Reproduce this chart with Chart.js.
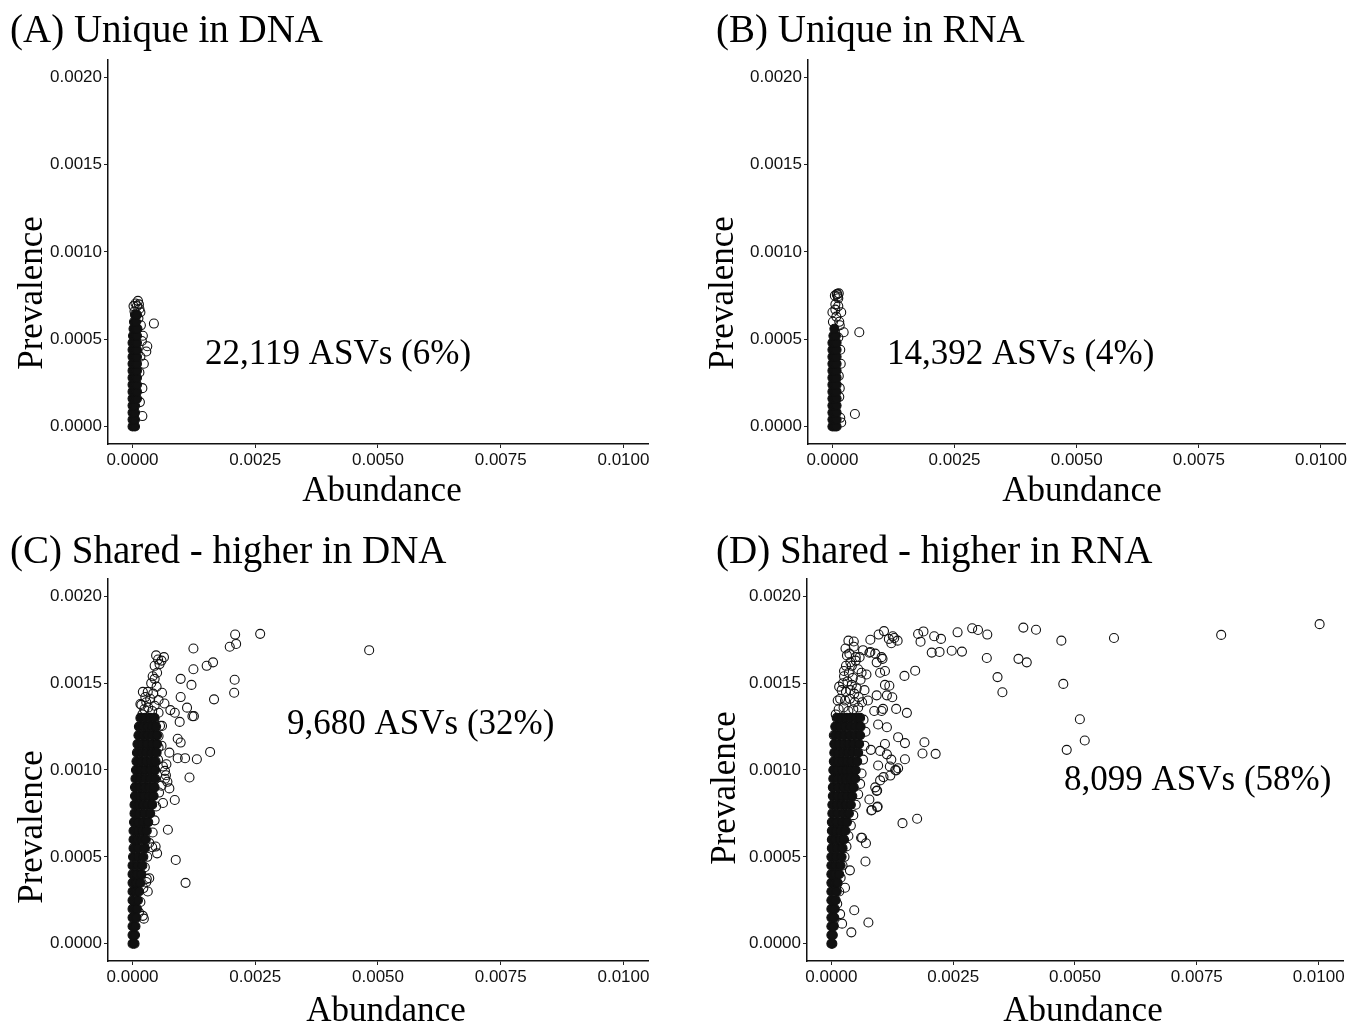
<!DOCTYPE html>
<html>
<head>
<meta charset="utf-8">
<title>Prevalence vs abundance</title>
<script src="https://cdn.jsdelivr.net/npm/chart.js@4.4.1/dist/chart.umd.min.js"></script>
<style>
  body { margin: 0; background: #fff; width: 1351px; height: 1023px; overflow: hidden; }
  .panel { position: absolute; }
</style>
</head>
<body>
<div class="panel" style="left:0;top:0"><canvas id="chartA" width="670" height="515"></canvas></div>
<div class="panel" style="left:700px;top:0"><canvas id="chartB" width="651" height="515"></canvas></div>
<div class="panel" style="left:0;top:520px"><canvas id="chartC" width="670" height="503"></canvas></div>
<div class="panel" style="left:700px;top:520px"><canvas id="chartD" width="651" height="503"></canvas></div>

<script>
// all point values below are in units of 1e-4 (abundance, prevalence)
const UNIT = 1e-4;

const xTicks = [0, 0.0025, 0.005, 0.0075, 0.01];
const yTicks = [0, 0.0005, 0.001, 0.0015, 0.002];

const panelTitles = ['(A) Unique in DNA', '(B) Unique in RNA', '(C) Shared - higher in DNA', '(D) Shared - higher in RNA'];
const panelNotes = ['22,119 ASVs (6%)', '14,392 ASVs (4%)', '9,680 ASVs (32%)', '8,099 ASVs (58%)'];

// dense (solid black) part of each cloud
const coreA = [
  [0,0],[0.5,0],[0,0.4],[0.5,0.4],[0,0.8],[0.5,0.8],[0,1.2],[0.5,1.2],
  [0,1.6],[0.5,1.6],[0.9,1.6],[0,2.0],[0.5,2.0],[0.9,2.0],[0,2.4],[0.5,2.4],[0.9,2.4],
  [0,2.8],[0.5,2.8],[0.9,2.8],[0,3.2],[0.5,3.2],[0.9,3.2],[0,3.6],[0.5,3.6],[0.9,3.6],
  [0,4.0],[0.5,4.0],[0.9,4.0],[0,4.4],[0.5,4.4],[0.9,4.4],[0,4.8],[0.5,4.8],[0.9,4.8],
  [0.1,5.2],[0.5,5.2],[0.9,5.2],[0.2,5.6],[0.6,5.6],[1.0,5.6],[0.3,6.0],[0.7,6.0],
  [0.5,6.4],[0.9,6.4]
];
const ptsA = [
  [4.35,5.9],[3.0,4.6],[2.8,4.3],[2.3,3.6],[2.0,2.2],[2.0,0.6],[2.1,5.2],[1.6,6.55],
  [1.4,6.75],[1.1,7.2],[0.6,7.05],[0.9,6.9],[1.3,7.0],[0.4,6.6],[1.7,5.8],[1.6,4.0],
  [1.5,1.4],[1.4,3.1],[1.2,6.2],[0.2,6.9],[1.9,4.9]
];

const coreB = [
  [0,0],[0.45,0],[0.85,0],[0,0.4],[0.45,0.4],[0.85,0.4],[0,0.8],[0.45,0.8],[0.85,0.8],
  [0,1.2],[0.45,1.2],[0.85,1.2],[0,1.6],[0.45,1.6],[0.85,1.6],[0,2.0],[0.45,2.0],[0.85,2.0],
  [0,2.4],[0.45,2.4],[0.85,2.4],[0,2.8],[0.45,2.8],[0.85,2.8],[0,3.2],[0.45,3.2],[0.85,3.2],
  [0,3.6],[0.45,3.6],[0.85,3.6],[0,4.0],[0.45,4.0],[0.85,4.0],[0,4.4],[0.45,4.4],[0.85,4.4],
  [0,4.8],[0.45,4.8],[0.85,4.8],[0.2,5.2],[0.7,5.2],[0.4,5.6]
];
const ptsB = [
  [5.5,5.4],[4.6,0.72],[2.3,5.4],[1.8,6.55],[1.4,6.0],[1.6,4.4],[1.3,2.9],[1.4,1.7],
  [1.6,0.5],[1.8,0.23],[0.1,6.0],[0,6.55],[0.6,7.0],[0.9,7.57],[1.3,7.63],[0.5,7.5],
  [1.1,7.45],[1.0,7.6],[1.2,7.35],[0.8,6.3],[1.5,5.8],[1.2,5.1],[0.6,6.7],[1.7,3.6],
  [1.5,2.2],[1.2,6.9]
];

const coreC = [
  [0,0],[0.4,0],[0,0.5],[0.5,0.5],[0,1],[0.6,1],[0,1.5],[0.8,1.5],[0,2],[0.9,2],[0,2.5],[1.1,2.5],
  [0,3],[0.7,3],[1.3,3],[0,3.5],[0.8,3.5],[1.6,3.5],[0,4],[0.9,4],[1.8,4],[0,4.5],[1.0,4.5],[2.0,4.5],
  [0.1,5],[1.1,5],[2.2,5],[0.2,5.5],[1.2,5.5],[2.5,5.5],
  [0.2,6],[1.0,6],[1.9,6],[2.7,6],[0.2,6.5],[1.1,6.5],[2.0,6.5],[2.9,6.5],
  [0.3,7],[1.2,7],[2.2,7],[3.2,7],[0.4,7.5],[1.3,7.5],[2.4,7.5],[3.6,7.5],
  [0.4,8],[1.3,8],[2.2,8],[3.1,8],[4.0,8],[0.5,8.5],[1.5,8.5],[2.4,8.5],[3.4,8.5],[4.3,8.5],
  [0.5,9],[1.5,9],[2.5,9],[3.5,9],[4.5,9],[0.6,9.5],[1.6,9.5],[2.6,9.5],[3.6,9.5],[4.6,9.5],
  [0.7,10],[1.7,10],[2.7,10],[3.7,10],[4.6,10],[0.8,10.5],[1.8,10.5],[2.8,10.5],[3.8,10.5],[4.7,10.5],
  [0.9,11],[1.9,11],[2.9,11],[3.9,11],[4.9,11],[1.0,11.5],[2.0,11.5],[3.0,11.5],[4.0,11.5],[5.0,11.5],
  [1.2,12],[2.2,12],[3.1,12],[4.1,12],[5.0,12],[1.3,12.5],[2.2,12.5],[3.1,12.5],[4.0,12.5],[4.8,12.5],
  [1.6,13],[2.6,13],[3.6,13],[4.5,13]
];
const ptsC = [
  [48.2,16.9],[26.0,17.84],[20.9,17.8],[19.8,17.1],[21.1,17.26],[12.4,17.0],[15.1,16.0],[16.4,16.2],
  [12.4,15.8],[20.8,15.2],[20.7,14.45],[16.6,14.07],[9.8,15.25],[12.0,14.9],[9.8,14.2],[11.1,13.59],
  [12.2,13.1],[9.6,12.77],[8.6,13.3],[7.7,13.45],[6.0,12.54],[9.2,11.8],[9.8,11.58],[15.8,11.04],
  [13.1,10.62],[9.2,10.68],[10.7,10.68],[7.5,11.0],[6.9,10.33],[11.6,9.57],[7.1,9.32],[7.5,8.94],
  [6.6,9.5],[8.6,8.27],[6.2,8.1],[7.2,6.56],[4.7,5.59],[8.8,4.82],[10.8,3.5],[4.0,5.55],
  [2.9,3.73],[2.3,1.44],[3.4,3.77],[5.3,11.96],[5.3,11.3],[5.2,10.6],[6.5,13.83],[5.3,14.03],
  [6.0,14.45],[6.4,16.5],[5.2,16.36],[5.0,5.2],[2.8,3.55],[3.1,3.0],[2.1,1.6],[5.6,12.55],
  [5.9,11.4],[6.2,10.2],[6.6,9.95],[6.8,9.7],[5.9,9.1],[5.4,8.7],[4.8,7.9],[4.5,7.1],
  [4.1,6.4],[3.4,5.8],[3.0,5.0],[2.5,4.4],[2.2,3.2],[1.6,2.4],[1.3,1.8],[5.3,13.3],
  [1.6,13.8],[2.1,14.5],[3.1,14.5],[4.2,14.4],[1.8,13.75],[2.8,13.9],[4.5,13.7],[3.8,15.0],
  [4.5,15.25],[5.0,15.6],[4.1,15.4],[4.5,16.0],[5.5,16.1],[5.9,16.3],[4.8,16.6],[12.5,13.1],
  [2.4,13.5],[3.2,13.6],[4.0,13.4],[2.0,13.2],[3.6,14.1],[2.6,14.2],[4.9,14.8]
];

const coreD = [
  [0,0],[0.2,0],[0,0.5],[0.3,0.5],[0,1],[0.5,1],[0,1.5],[0.6,1.5],[0,2],[0.7,2],[0,2.5],[0.9,2.5],
  [0,3],[1.1,3],[0,3.5],[0.7,3.5],[1.3,3.5],[0,4],[0.8,4],[1.6,4],[0,4.5],[0.9,4.5],[1.9,4.5],
  [0,5],[1.0,5],[2.1,5],[0.1,5.5],[1.2,5.5],[2.3,5.5],
  [0.1,6],[0.9,6],[1.8,6],[2.6,6],[0.1,6.5],[1.0,6.5],[1.9,6.5],[2.9,6.5],
  [0.1,7],[1.1,7],[2.2,7],[3.2,7],[0.2,7.5],[1.3,7.5],[2.5,7.5],[3.6,7.5],
  [0.2,8],[1.2,8],[2.1,8],[3.0,8],[4.0,8],[0.3,8.5],[1.3,8.5],[2.3,8.5],[3.3,8.5],[4.3,8.5],
  [0.3,9],[1.4,9],[2.5,9],[3.6,9],[4.6,9],[0.4,9.5],[1.3,9.5],[2.2,9.5],[3.1,9.5],[4.0,9.5],[4.9,9.5],
  [0.4,10],[1.3,10],[2.2,10],[3.1,10],[4.0,10],[5.0,10],[0.5,10.5],[1.4,10.5],[2.3,10.5],[3.2,10.5],[4.2,10.5],[5.3,10.5],
  [0.6,11],[1.5,11],[2.4,11],[3.4,11],[4.4,11],[5.5,11],[0.6,11.5],[1.6,11.5],[2.6,11.5],[3.6,11.5],[4.6,11.5],[5.7,11.5],
  [0.7,12],[1.7,12],[2.7,12],[3.8,12],[4.9,12],[5.9,12],[0.8,12.5],[1.8,12.5],[2.8,12.5],[3.9,12.5],[5.0,12.5],[6.0,12.5],
  [1.1,13],[2.1,13],[3.1,13],[4.0,13],[5.0,13],[5.9,13]
];
const ptsD = [
  [100.2,18.4],[80.0,17.78],[58.0,17.6],[47.2,17.45],[47.6,14.96],[51.0,12.92],[52.0,11.7],[48.3,11.16],
  [39.4,18.2],[42.0,18.08],[38.4,16.4],[40.1,16.2],[34.1,15.35],[35.1,14.48],[31.9,16.45],[32.0,17.8],
  [28.9,18.16],[30.1,18.06],[25.9,17.93],[26.8,16.82],[24.7,16.87],[22.2,16.8],[20.6,16.76],[22.5,17.55],
  [21.1,17.7],[18.9,17.98],[17.8,17.83],[18.3,17.39],[17.2,15.72],[15.0,15.42],[19.1,11.6],[18.7,10.95],
  [21.4,10.93],[15.1,10.62],[13.7,11.89],[15.1,11.55],[15.5,13.29],[13.3,13.52],[17.6,7.19],[14.6,6.94],
  [13.3,9.98],[12.1,9.68],[12.3,10.6],[12.3,17.3],[12.9,17.6],[13.6,17.45],[12.6,17.7],[11.8,17.55],
  [10.8,18.0],[9.7,17.8],[8.0,17.5],[4.6,17.4],[3.5,17.45],[7.6,1.22],[4.7,1.92],[4.1,0.65],
  [7.0,4.73],[7.1,5.78],[6.1,6.1],[3.8,4.22],[2.8,3.22],[9.4,7.86],[8.2,7.67],[10.6,13.52],
  [11.9,14.85],[11.0,14.9],[12.5,14.19],[11.4,14.3],[9.3,14.3],[8.8,13.4],[10.3,13.4],[11.4,12.46],
  [9.6,12.62],[11.0,15.7],[10.0,15.6],[9.3,16.2],[10.5,16.4],[8.0,16.8],[9.0,16.7],[10.3,16.5],
  [11.0,11.5],[10.0,11.1],[11.4,10.9],[13.7,10.1],[13.1,10.0],[12.0,10.2],[10.0,9.4],[9.0,9.0],
  [9.5,7.9],[8.3,7.7],[6.3,6.1],[7.8,8.3],[9.3,8.8],[2.2,1.15],[1.8,1.7],[8.1,11.16],
  [9.6,10.26],[10.7,9.59],[9.4,8.82],[6.6,12.9],[7.0,12.2],[6.8,11.4],[6.5,10.6],[6.2,9.8],
  [5.9,9.2],[5.5,8.6],[5.0,8.0],[4.5,7.4],[4.0,6.8],[3.5,6.2],[3.1,5.6],[2.7,5.0],
  [2.3,4.5],[1.9,3.8],[1.6,3.0],[1.2,2.3],[7.5,14.0],[6.8,14.6],[6.0,15.2],[5.5,15.8],
  [5.0,16.3],[4.2,16.0],[3.2,16.6],[2.6,15.7],[7.2,15.5],[6.5,16.9],[5.8,16.5],[1.3,14.0],
  [0.9,13.2],[0.5,12.0],[3.7,16.7],[5.0,16.5],[7.8,16.75],[4.6,17.1],
  [1.5,13.5],[2.5,13.6],[3.5,13.4],[4.5,13.5],[5.5,13.6],[1.8,14.1],[2.8,14.0],[3.8,14.1],
  [4.8,13.9],[2.1,14.6],[3.0,14.5],[3.9,14.6],[4.7,14.4],[2.4,15.0],[3.3,15.1],[4.2,14.9],
  [2.6,15.4],[3.6,15.6],[4.4,15.3],[3.0,16.0],[3.9,16.2],[2.9,17.0],[1.6,14.8],[6.3,13.9],
  [6.2,15.6],[5.2,14.7],[5.6,14.2]
];

const toPoints = arr => arr.map(p => ({ x: p[0] * UNIT, y: p[1] * UNIT }));

// free text drawn on each panel: title, axis titles, ASV count
const panelText = {
  id: 'panelText',
  afterDraw(chart, args, o) {
    const ctx = chart.ctx;
    ctx.save();
    ctx.fillStyle = '#000';
    ctx.textBaseline = 'alphabetic';
    ctx.textAlign = 'left';
    ctx.font = '39px "Liberation Serif"';
    ctx.fillText(o.title, o.titleX, o.titleY);
    ctx.font = '35px "Liberation Serif"';
    ctx.fillText(o.note, o.noteX, o.noteY);
    ctx.textAlign = 'center';
    ctx.fillText('Abundance', o.xTitleX, o.xTitleY);
    ctx.translate(o.yTitleX, o.yTitleY);
    ctx.rotate(-Math.PI / 2);
    ctx.fillText('Prevalence', 0, 0);
    ctx.restore();
  }
};

function axis(ticks, min, max, fit) {
  return {
    type: 'linear',
    min: min,
    max: max,
    afterBuildTicks: s => { s.ticks = ticks.map(v => ({ value: v })); },
    afterFit: fit,
    grid: { display: true, drawOnChartArea: false, drawTicks: true, tickLength: 4, color: '#222', tickWidth: 1 },
    border: { display: true, color: '#111', width: 1.5 },
    ticks: {
      autoSkip: false,
      maxRotation: 0,
      padding: 2,
      color: '#111',
      font: { family: 'Liberation Sans', size: 17 },
      callback: v => Number(v).toFixed(4)
    }
  };
}

function makeChart(id, core, pts, cfg) {
  new Chart(document.getElementById(id), {
    type: 'scatter',
    data: {
      datasets: [
        { data: toPoints(core), pointRadius: 4.5, borderWidth: 1.1, borderColor: '#111', backgroundColor: '#111' },
        { data: toPoints(pts), pointRadius: 4.5, borderWidth: 1.1, borderColor: '#111', backgroundColor: 'rgba(0,0,0,0)' }
      ]
    },
    options: {
      responsive: false,
      animation: false,
      layout: { padding: cfg.pad },
      plugins: {
        legend: { display: false },
        tooltip: { enabled: false },
        panelText: cfg.text
      },
      scales: {
        x: axis(xTicks, -0.0005, 0.0105, s => { s.height = cfg.xH; }),
        y: axis(yTicks, -0.0001, 0.0021, s => { s.width = cfg.yW; })
      }
    },
    plugins: [panelText]
  });
}

makeChart('chartA', coreA, ptsA, {
  pad: { top: 60, left: 9, right: 22, bottom: 0 }, xH: 71, yW: 99,
  text: { title: panelTitles[0], titleX: 10, titleY: 42, note: panelNotes[0], noteX: 205, noteY: 364,
          xTitleX: 382, xTitleY: 501, yTitleX: 42, yTitleY: 293 }
});
makeChart('chartB', coreB, ptsB, {
  pad: { top: 60, left: 9, right: 4, bottom: 0 }, xH: 71, yW: 99,
  text: { title: panelTitles[1], titleX: 16, titleY: 42, note: panelNotes[1], noteX: 187, noteY: 364,
          xTitleX: 382, xTitleY: 501, yTitleX: 33, yTitleY: 293 }
});
makeChart('chartC', coreC, ptsC, {
  pad: { top: 59, left: 9, right: 22, bottom: 0 }, xH: 62, yW: 99,
  text: { title: panelTitles[2], titleX: 10, titleY: 43, note: panelNotes[2], noteX: 287, noteY: 214,
          xTitleX: 386, xTitleY: 501, yTitleX: 42, yTitleY: 307 }
});
makeChart('chartD', coreD, ptsD, {
  pad: { top: 59, left: 9, right: 8, bottom: 0 }, xH: 62, yW: 98,
  text: { title: panelTitles[3], titleX: 16, titleY: 43, note: panelNotes[3], noteX: 364, noteY: 270,
          xTitleX: 383, xTitleY: 501, yTitleX: 35, yTitleY: 268 }
});
</script>
</body>
</html>
